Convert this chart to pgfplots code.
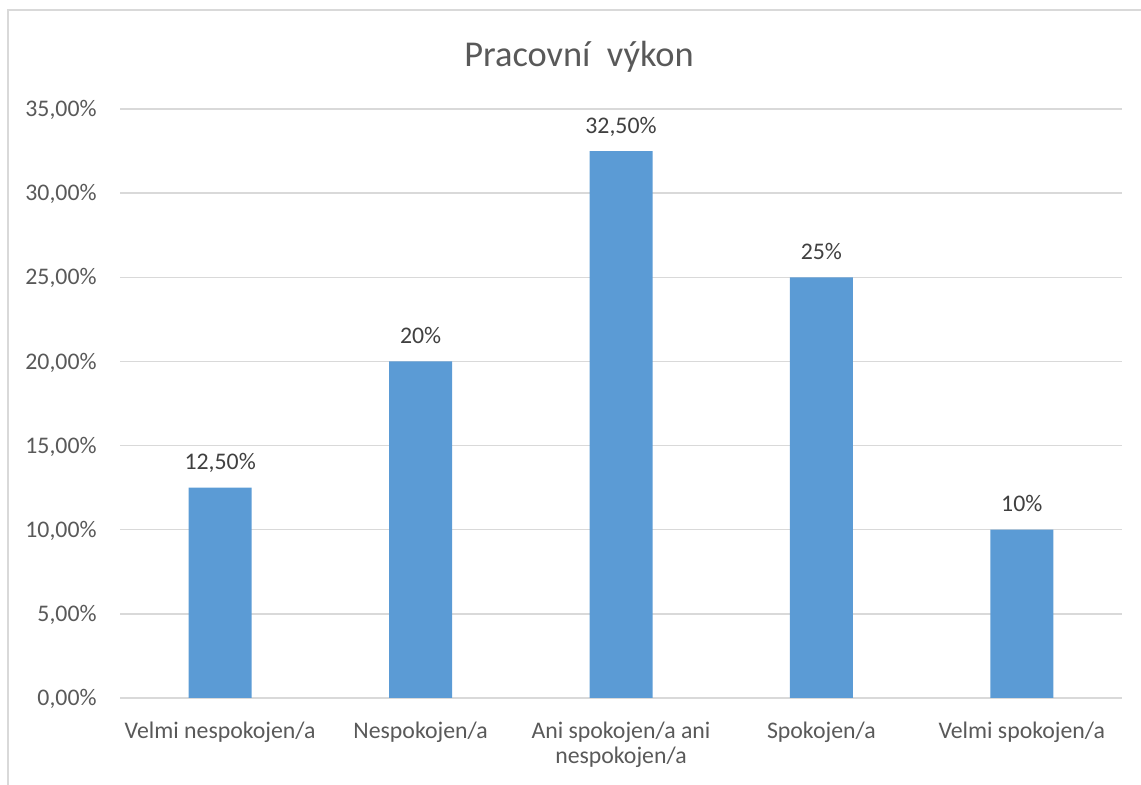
\documentclass[border=0pt]{standalone}
\usepackage{pgfplots}
\pgfplotsset{compat=1.18}
\usepackage{fontspec}
\setmainfont{Carlito}
\definecolor{barblue}{HTML}{5B9BD5}
\definecolor{txtgray}{HTML}{595959}
\definecolor{lbldark}{HTML}{404040}
\definecolor{gridgray}{HTML}{D9D9D9}
\begin{document}
\begin{tikzpicture}
\useasboundingbox (0,0) rectangle (570.5pt,392.5pt);
\draw[gridgray, line width=0.75pt] (4pt,-2pt) -- (4pt,387.5pt) -- (572pt,387.5pt);
\node[anchor=base, text=txtgray, font={\fontsize{18.2}{21}\selectfont}] at (289.5pt,359.2pt) {Pracovní\ \ výkon};
\begin{axis}[
  at={(60pt,43.5pt)}, anchor=south west,
  scale only axis, width=501pt, height=294.5pt,
  xmin=-0.5, xmax=4.5, ymin=0, ymax=35,
  axis line style={draw=none},
  major tick length=0pt,
  tick style={draw=none},
  ymajorgrids, grid style={gridgray, line width=0.75pt},
  ytick={0,5,...,35},
  yticklabels={{0,00\%},{5,00\%},{10,00\%},{15,00\%},{20,00\%},{25,00\%},{30,00\%},{35,00\%}},
  yticklabel style={anchor=base east, inner sep=0pt, xshift=-11.5pt, yshift=-3.8pt, text=txtgray, font={\fontsize{11.9}{14}\selectfont}},
  xtick={0,1,2,3,4},
  xticklabels={{Velmi nespokojen/a},{Nespokojen/a},{Ani spokojen/a ani\\nespokojen/a},{Spokojen/a},{Velmi spokojen/a}},
  xticklabel style={anchor=north, inner sep=0pt, yshift=-12pt, align=center, text=txtgray, font={\fontsize{11.9}{12.5}\selectfont}},
  ybar, bar width=31.5pt,
  nodes near coords,
  point meta=explicit symbolic,
  every node near coord/.append style={anchor=base, inner sep=0pt, yshift=9pt, text=lbldark, font={\fontsize{11.9}{14}\selectfont}},
  clip=false,
]
\addplot[fill=barblue, draw=none, bar shift=0pt] coordinates {
  (0,12.5) [{12,50\%}]
  (1,20) [{20\%}]
  (2,32.5) [{32,50\%}]
  (3,25) [{25\%}]
  (4,10) [{10\%}]
};
\end{axis}
\end{tikzpicture}
\end{document}
